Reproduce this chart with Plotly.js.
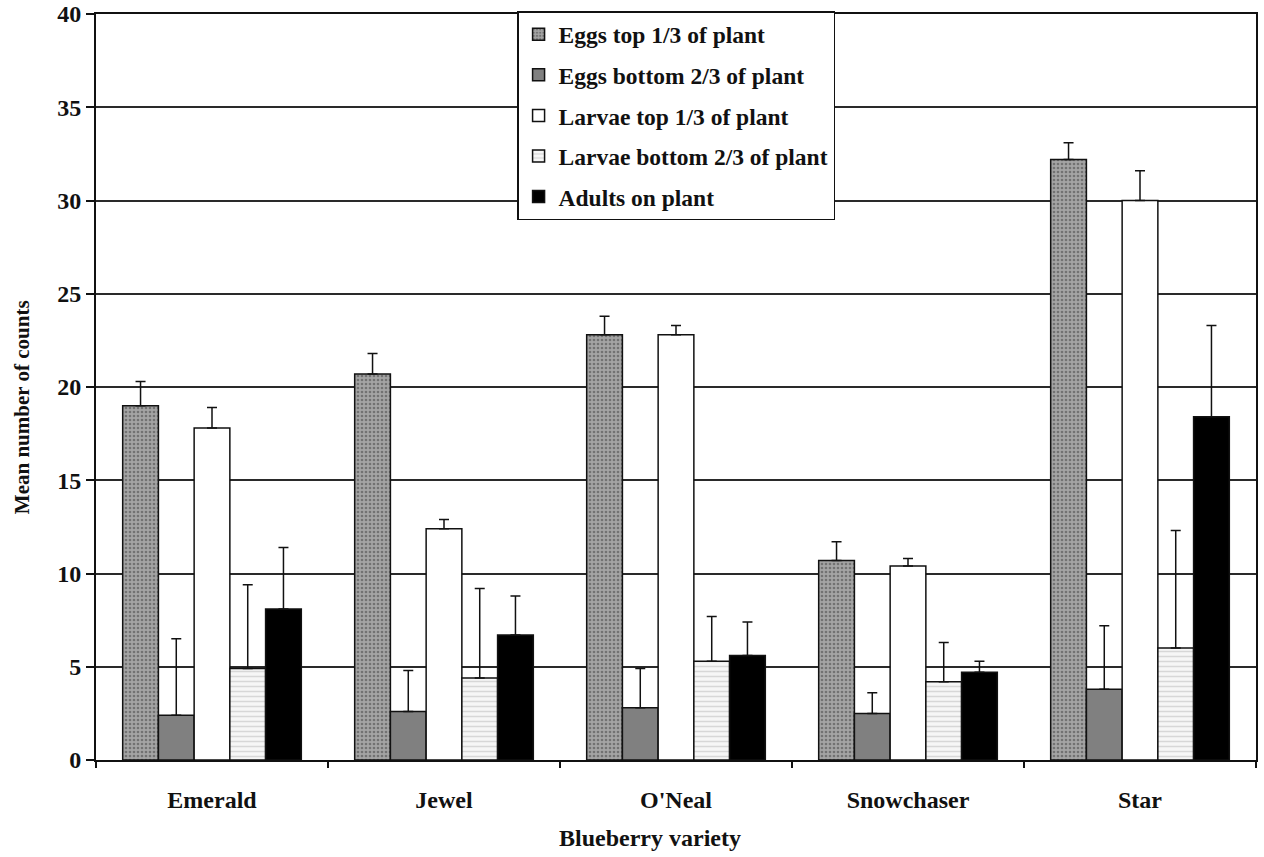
<!DOCTYPE html>
<html>
<head>
<meta charset="utf-8">
<script src="https://cdn.plot.ly/plotly-3.0.1.min.js"></script>
<style>html,body{margin:0;padding:0;background:#fff;}#chart{width:1264px;height:857px;}</style>
</head>
<body>
<div id="chart"></div>
<script>
var varieties = ["Emerald", "Jewel", "O'Neal", "Snowchaser", "Star"];

var seriesNames = ["Eggs top 1/3 of plant", "Eggs bottom 2/3 of plant", "Larvae top 1/3 of plant", "Larvae bottom 2/3 of plant", "Adults on plant"];

var eggsTop = [19.0, 20.7, 22.8, 10.7, 32.2];
var eggsTopErr = [1.3, 1.1, 1.0, 1.0, 0.9];
var eggsBottom = [2.4, 2.6, 2.8, 2.5, 3.8];
var eggsBottomErr = [4.1, 2.2, 2.1, 1.1, 3.4];
var larvaeTop = [17.8, 12.4, 22.8, 10.4, 30.0];
var larvaeTopErr = [1.1, 0.5, 0.5, 0.4, 1.6];
var larvaeBottom = [4.9, 4.4, 5.3, 4.2, 6.0];
var larvaeBottomErr = [4.5, 4.8, 2.4, 2.1, 6.3];
var adults = [8.1, 6.7, 5.6, 4.7, 18.4];
var adultsErr = [3.3, 2.1, 1.8, 0.6, 4.9];

var yTicks = [0, 5, 10, 15, 20, 25, 30, 35, 40];
var xTitle = 'Blueberry variety';
var yTitle = 'Mean number of counts';

var values = [eggsTop, eggsBottom, larvaeTop, larvaeBottom, adults];
var errs = [eggsTopErr, eggsBottomErr, larvaeTopErr, larvaeBottomErr, adultsErr];
var markers = [
  {color: '#a0a0a0', line: {color: '#111', width: 1.5}, pattern: {shape: '.', bgcolor: '#a4a4a4', fgcolor: '#404040', size: 4, solidity: 0.35, fillmode: 'overlay'}},
  {color: '#808080', line: {color: '#111', width: 1.5}},
  {color: '#ffffff', line: {color: '#111', width: 1.5}},
  {color: '#f4f4f4', line: {color: '#111', width: 1.5}, pattern: {shape: '-', bgcolor: '#f6f6f6', fgcolor: '#b8b8b8', size: 5, solidity: 0.3, fillmode: 'overlay'}},
  {color: '#000000', line: {color: '#111', width: 1.5}}
];

var traces = seriesNames.map(function (name, i) {
  return {
    type: 'bar',
    name: name,
    x: varieties,
    y: values[i],
    marker: markers[i],
    legendgroup: 'g' + i,
    error_y: {type: 'data', symmetric: false, array: errs[i], arrayminus: errs[i].map(function () { return 0; }), color: '#111', thickness: 1.5, width: 5}
  };
});

var fam = 'Liberation Serif, Times New Roman, serif';

var layout = {
  width: 1264,
  height: 857,
  margin: {l: 96, r: 8, t: 14, b: 97},
  paper_bgcolor: '#fff',
  plot_bgcolor: '#fff',
  barmode: 'group',
  bargap: 0.23,
  bargroupgap: 0,
  font: {family: fam, color: '#111'},
  showlegend: true,
  legend: {
    x: 0.363, y: 1.004, xanchor: 'left', yanchor: 'top',
    bgcolor: '#fff', bordercolor: '#111', borderwidth: 1.5,
    font: {family: fam, size: 23.5, color: '#111', weight: 'bold'},
    tracegroupgap: 7,
    itemwidth: 30
  },
  xaxis: {
    type: 'category',
    showline: true, linecolor: '#111', linewidth: 2, mirror: true,
    ticks: 'outside', tickson: 'boundaries', ticklen: 6, tickcolor: '#111', tickwidth: 1.5,
    ticklabelstandoff: 17,
    showgrid: false,
    tickfont: {family: fam, size: 24, color: '#111', weight: 'bold'}
  },
  yaxis: {
    range: [0, 40],
    tickvals: yTicks,
    ticktext: yTicks.map(String),
    showline: true, linecolor: '#111', linewidth: 2, mirror: true,
    ticks: 'outside', ticklen: 8, tickcolor: '#111', tickwidth: 1.5,
    showgrid: true, gridcolor: '#2a2a2a', gridwidth: 2,
    zeroline: false,
    tickfont: {family: fam, size: 24, color: '#111', weight: 'bold'}
  },
  annotations: [
    {text: xTitle, xref: 'paper', yref: 'paper', x: 0.4776, y: 0, yshift: -78, xanchor: 'center', yanchor: 'middle', showarrow: false,
     font: {family: fam, size: 24, color: '#111', weight: 'bold'}},
    {text: yTitle, xref: 'paper', yref: 'paper', x: 0, xshift: -74, y: 0.473, xanchor: 'center', yanchor: 'middle', textangle: -90, showarrow: false,
     font: {family: fam, size: 21, color: '#111', weight: 'bold'}}
  ]
};

Plotly.newPlot('chart', traces, layout, {displayModeBar: false, responsive: false});
</script>
</body>
</html>
